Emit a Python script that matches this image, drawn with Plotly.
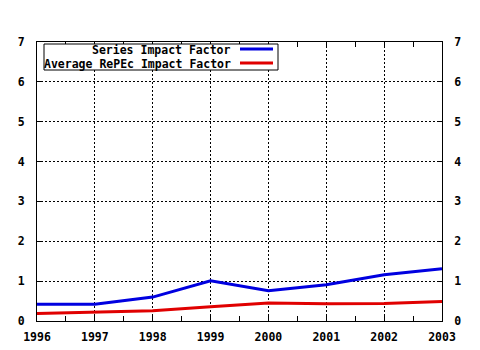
import plotly.graph_objects as go

# Impact factor series, 1996-2003
years = [1996, 1997, 1998, 1999, 2000, 2001, 2002, 2003]
series_if = [0.42, 0.42, 0.60, 1.01, 0.76, 0.91, 1.16, 1.31]
average_repec_if = [0.19, 0.22, 0.26, 0.36, 0.45, 0.43, 0.44, 0.49]
series_names = ["Series Impact Factor", "Average RePEc Impact Factor"]
y_ticks = [0, 1, 2, 3, 4, 5, 6, 7]

W, H = 480, 350
L, R, T, B = 37, 442, 42, 321  # plot area in pixels

BLUE = "#0000e0"
RED = "#e00000"
FONT = dict(family="DejaVu Sans Mono", size=11.5, color="black", weight="bold")


def px(xp):
    return (xp - L) / (R - L)


def py(yp):
    return (B - yp) / (B - T)


fig = go.Figure()
fig.add_trace(go.Scatter(x=years, y=series_if, mode="lines",
                         line=dict(color=BLUE, width=3), name=series_names[0],
                         showlegend=False))
fig.add_trace(go.Scatter(x=years, y=average_repec_if, mode="lines",
                         line=dict(color=RED, width=3), name=series_names[1],
                         showlegend=False))
# carrier trace for the right-hand axis
fig.add_trace(go.Scatter(x=years, y=series_if, mode="lines", yaxis="y2",
                         line=dict(width=0), opacity=0, showlegend=False,
                         hoverinfo="skip"))

axis_common = dict(showline=True, linecolor="black", linewidth=1,
                   ticks="inside", ticklen=5, tickcolor="black",
                   tickfont=FONT, zeroline=False, automargin=False)
grid = dict(showgrid=True, gridcolor="black", griddash="2px,2px", gridwidth=1)

fig.update_layout(
    width=W, height=H,
    margin=dict(l=L, r=W - R, t=T, b=H - B),
    paper_bgcolor="white", plot_bgcolor="white",
    xaxis=dict(range=[years[0], years[-1]], tickvals=years,
               ticktext=[str(y) for y in years],
               mirror="allticks", ticklabelstandoff=5,
               minor=dict(dtick=0.5, tick0=years[0], ticks="inside",
                          ticklen=3, tickcolor="black", showgrid=False),
               **grid, **axis_common),
    yaxis=dict(range=[0, 7], tickvals=y_ticks, mirror="ticks",
               ticklabelstandoff=9, **grid, **axis_common),
    yaxis2=dict(range=[0, 7], tickvals=y_ticks, overlaying="y", side="right",
                showgrid=False, ticklabelstandoff=9, **axis_common),
)

# Legend box with line samples on the right of the labels
fig.add_shape(type="rect", xref="paper", yref="paper",
              x0=px(44), x1=px(278), y0=py(44), y1=py(70),
              line=dict(color="black", width=1), fillcolor="white", layer="above")
for i, (name, col) in enumerate(zip(series_names, [BLUE, RED])):
    yy = 50 + i * 14
    fig.add_annotation(xref="paper", yref="paper", x=px(233), y=py(yy),
                       text=name, showarrow=False, xanchor="right",
                       yanchor="middle", font=FONT)
    fig.add_shape(type="line", xref="paper", yref="paper",
                  x0=px(240), x1=px(273), y0=py(yy - 1), y1=py(yy - 1),
                  line=dict(color=col, width=3), layer="above")

fig.write_html("out.html")
